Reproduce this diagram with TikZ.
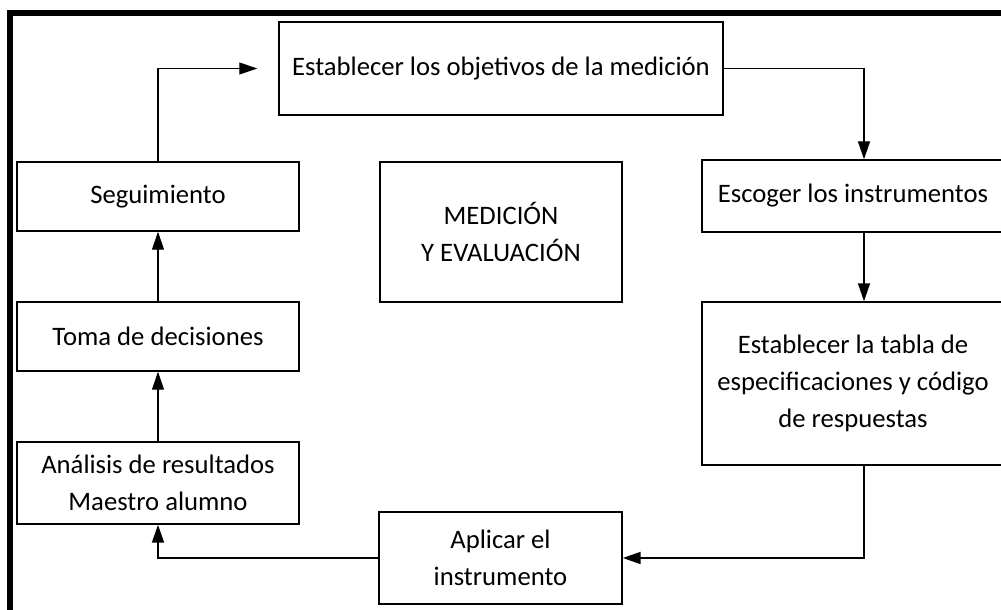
\documentclass[tikz,border=0pt]{standalone}
\usepackage{fontspec}
\setmainfont{Carlito}
\usetikzlibrary{arrows.meta}

\begin{document}
\begin{tikzpicture}[x=0.75pt, y=-0.75pt]
  \tikzstyle{box}=[draw, rectangle, line width=1.1pt, align=center, inner sep=0pt, font=\fontsize{20}{28}\selectfont]
  \tikzstyle{flecha}=[-{Triangle[length=13.5pt,width=9pt]}, line width=0.8pt]

  \useasboundingbox (0,0) rectangle (1001,610);
  \clip (0,0) rectangle (1001,610);
  \draw[line width=4.5pt] (10.3,700) -- (10.3,13) -- (1100,13);

  \node[box, minimum width=333pt, minimum height=69.75pt] (obj) at (501,68.5) {Establecer los objetivos de la medición};
  \node[box, minimum width=226.5pt, minimum height=54pt] (esc) at (853,196) {Escoger los instrumentos};
  \node[box, minimum width=226.5pt, minimum height=122.25pt] (tabla) at (853,383.5) {Establecer la tabla de\\ especificaciones y código\\ de respuestas};
  \node[box, minimum width=182.25pt, minimum height=69pt] (aplicar) at (500.5,558) {Aplicar el\\ instrumento};
  \node[box, minimum width=211.5pt, minimum height=61.5pt] (analisis) at (158,483) {Análisis de resultados\\ Maestro alumno};
  \node[box, minimum width=211.5pt, minimum height=51.75pt] (toma) at (158,336.5) {Toma de decisiones};
  \node[box, minimum width=211.5pt, minimum height=51.75pt] (seg) at (158,196.5) {Seguimiento};
  \node[box, minimum width=181.5pt, minimum height=105pt] (medicion) at (501,232) {MEDICIÓN\\ Y EVALUACIÓN};

  % columna de las flechas de la derecha
  \coordinate (rcol) at (864,0);

  \draw[flecha, shorten >=15.75pt] (seg.north) |- (obj.west);
  \draw[flecha, line width=1.1pt] (obj.east) -| (rcol |- esc.north);
  \draw[flecha, line width=1.1pt] (rcol |- esc.south) -- (rcol |- tabla.north);
  \draw[flecha, line width=1.4pt] (rcol |- tabla.south) |- (aplicar.east);
  \draw[flecha, line width=1.4pt] (aplicar.west) -| (analisis.south);
  \draw[flecha] (analisis.north) -- (toma.south);
  \draw[flecha] (toma.north) -- (seg.south);

\end{tikzpicture}
\end{document}
